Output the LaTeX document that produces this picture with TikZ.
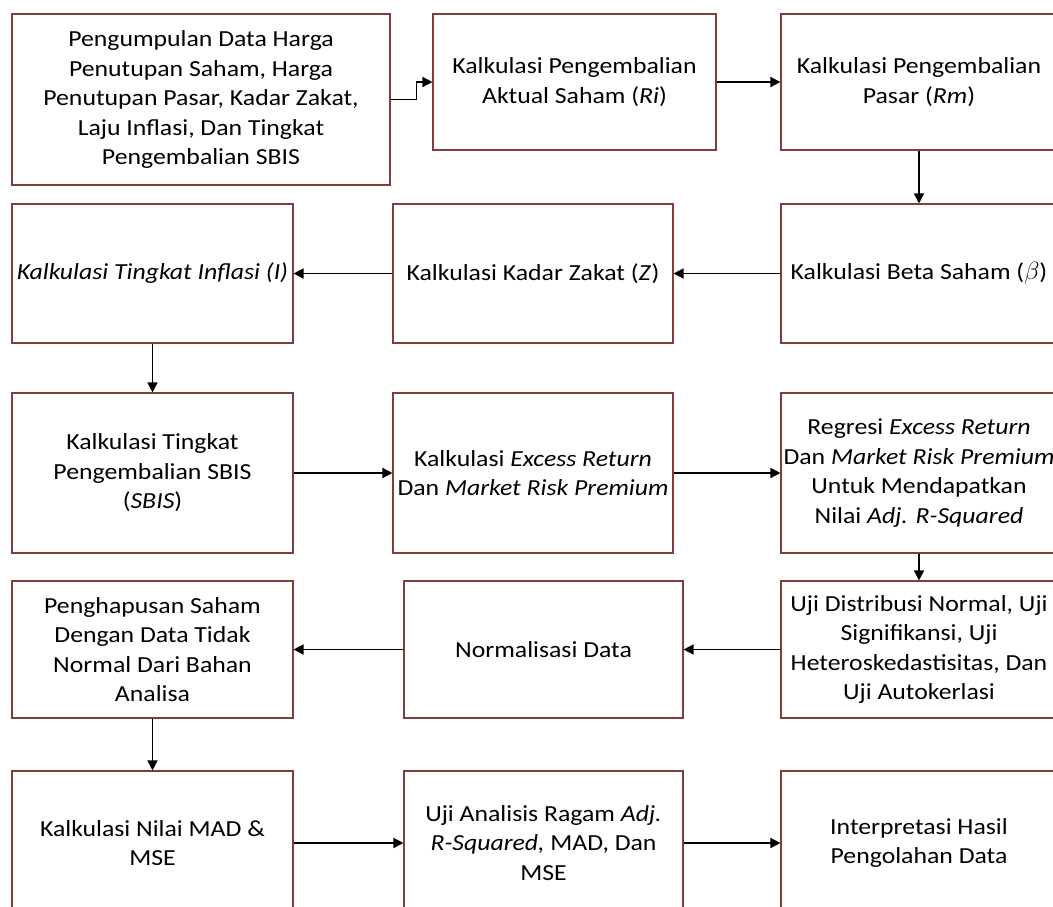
\documentclass[tikz,border=0pt]{standalone}
\usepackage{fontspec}
\setmainfont{Carlito}[FakeStretch=1.12]
\usetikzlibrary{arrows.meta}
\definecolor{boxc}{RGB}{125,62,62}
\tikzset{
  box/.style={draw=boxc, line width=1.1pt, rectangle, align=center, inner sep=2pt,
    font=\fontsize{23}{29.5}\selectfont},
  conn/.style={draw=black, line width=1.5pt, -{Triangle[length=10pt,width=10pt]}}
}
\begin{document}
\begin{tikzpicture}[x=1pt,y=-1pt]
\useasboundingbox (0,0) rectangle (1053,906);
\clip (0,0) rectangle (1053,906);
% row 1
\node[box, minimum width=378pt, minimum height=171pt] (A) at (201,99.5)
  {Pengumpulan Data Harga\\Penutupan Saham, Harga\\Penutupan Pasar, Kadar Zakat,\\Laju Inflasi, Dan Tingkat\\Pengembalian SBIS};
\node[box, minimum width=283pt, minimum height=136pt] (B) at (574.5,82)
  {Kalkulasi Pengembalian\\Aktual Saham (\textit{Ri})};
\node[box, minimum width=276pt, minimum height=136pt] (C) at (919,82)
  {Kalkulasi Pengembalian\\Pasar (\textit{Rm})};
% row 2
\node[box, minimum width=281pt, minimum height=139pt] (E) at (152.5,273.5)
  {\textit{Kalkulasi Tingkat Inflasi (I)}};
\node[box, minimum width=280pt, minimum height=139pt] (F) at (533,273.5)
  {Kalkulasi Kadar Zakat (\textit{Z})};
\node[box, minimum width=276pt, minimum height=139pt] (D) at (919,273.5)
  {Kalkulasi Beta Saham ($\beta$)};
% row 3
\node[box, minimum width=281pt, minimum height=160pt] (G) at (152.5,473)
  {Kalkulasi Tingkat\\Pengembalian SBIS\\(\textit{SBIS})};
\node[box, minimum width=280pt, minimum height=160pt] (H) at (533,473)
  {Kalkulasi \textit{Excess Return}\\Dan \textit{Market Risk Premium}};
\node[box, minimum width=276pt, minimum height=160pt] (I) at (919,473)
  {Regresi \textit{Excess Return}\\Dan \textit{Market Risk Premium}\\Untuk Mendapatkan\\Nilai \textit{Adj. R-Squared}};
% row 4
\node[box, minimum width=276pt, minimum height=137pt] (J) at (919,649.5)
  {Uji Distribusi Normal, Uji\\Signifikansi, Uji\\Heteroskedastisitas, Dan\\Uji Autokerlasi};
\node[box, minimum width=279pt, minimum height=137pt] (K) at (543.5,649.5)
  {Normalisasi Data};
\node[box, minimum width=281pt, minimum height=137pt] (L) at (152.5,649.5)
  {Penghapusan Saham\\Dengan Data Tidak\\Normal Dari Bahan\\Analisa};
% row 5
\node[box, minimum width=281pt, minimum height=144pt] (M) at (152.5,843)
  {Kalkulasi Nilai MAD \&\\MSE};
\node[box, minimum width=279pt, minimum height=144pt] (N) at (543.5,843)
  {Uji Analisis Ragam \textit{Adj.}\\\textit{R-Squared,} MAD, Dan\\MSE};
\node[box, minimum width=276pt, minimum height=144pt] (O) at (919,843)
  {Interpretasi Hasil\\Pengolahan Data};
% connectors
\draw[conn] (A.east) -- ++(26,0) |- (B.west);
\draw[conn] (B.east) -- (C.west);
\draw[conn] (C.south) -- (D.north);
\draw[conn] (D.west) -- (F.east);
\draw[conn] (F.west) -- (E.east);
\draw[conn] (E.south) -- (G.north);
\draw[conn] (G.east) -- (H.west);
\draw[conn] (H.east) -- (I.west);
\draw[conn] (I.south) -- (J.north);
\draw[conn] (J.west) -- (K.east);
\draw[conn] (K.west) -- (L.east);
\draw[conn] (L.south) -- (M.north);
\draw[conn] (M.east) -- (N.west);
\draw[conn] (N.east) -- (O.west);
\end{tikzpicture}
\end{document}
